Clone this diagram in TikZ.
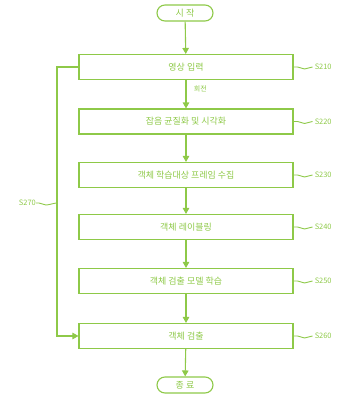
\documentclass[tikz,border=0pt]{standalone}
\usepackage{fontspec}
\newfontfamily\kr{Noto Sans CJK KR}
\usetikzlibrary{arrows.meta,shapes.misc,calc}
\definecolor{lg}{RGB}{142,201,72}
\begin{document}
\begin{tikzpicture}[x=1bp,y=-1bp,
  every node/.style={text=lg,font=\kr\fontsize{9}{10}\selectfont},
  stepbox/.style={draw=lg,line width=1.1bp,minimum width=214bp,minimum height=25bp,inner sep=0pt},
  term/.style={draw=lg,line width=1.1bp,rounded rectangle,minimum width=56bp,minimum height=16bp,inner sep=0pt},
  lab/.style={anchor=west,font=\kr\fontsize{7.5}{8}\selectfont,inner sep=0pt},
  conn/.style={draw=lg,line width=1.1bp,-{Triangle[length=6bp,width=6.5bp]}},
  tl/.style={draw=lg,line width=0.9bp}]
\useasboundingbox (0,0) rectangle (351,401);
\node[term] (st) at (185,13) {시 작};
\node[stepbox] (b1) at (186,67) {영상 입력};
\node[stepbox] (b2) at (186,121.5) {잡음 균질화 및 시각화};
\node[stepbox] (b3) at (186,175) {객체 학습대상 프레임 수집};
\node[stepbox] (b4) at (186,227) {객체 레이블링};
\node[stepbox] (b5) at (186,281) {객체 검출 모델 학습};
\node[stepbox] (b6) at (186,336) {객체 검출};
\node[term] (en) at (185,385) {종 료};
\draw[conn] (st) -- (b1);
\draw[conn] (b1) -- node[right=4bp,font=\kr\fontsize{7}{8}\selectfont,pos=0.3] {회전} (b2);
\draw[conn] (b2) -- (b3);
\draw[conn] (b3) -- (b4);
\draw[conn] (b4) -- (b5);
\draw[conn] (b5) -- (b6);
\draw[conn] (b6) -- (en);
\coordinate (lt) at (57,67);
\coordinate (lb) at (57,336);
\draw[conn] (b1.west) -- (lt) -- (lb) -- (b6.west);
\foreach \b/\t in {b1/S210,b2/S220,b3/S230,b4/S240,b5/S250,b6/S260}{
  \node[lab] (l\b) at ($(\b.east)+(21,0)$) {\t};
  \draw[tl] (\b.east) -- ++(4,0) .. controls +(3,0) and +(-3,0) .. ++(7,2) .. controls +(3,0) and +(-3,0) .. ($(l\b.west)+(-2,0)$);
}
\coordinate (lm) at (57,203);
\node[lab,anchor=east] (l7) at (36,203) {S270};
\draw[tl] (l7.east) -- ++(3,0) .. controls +(3,0) and +(-3,0) .. ++(7,2) .. controls +(3,0) and +(-3,0) .. (lm);
\end{tikzpicture}
\end{document}
